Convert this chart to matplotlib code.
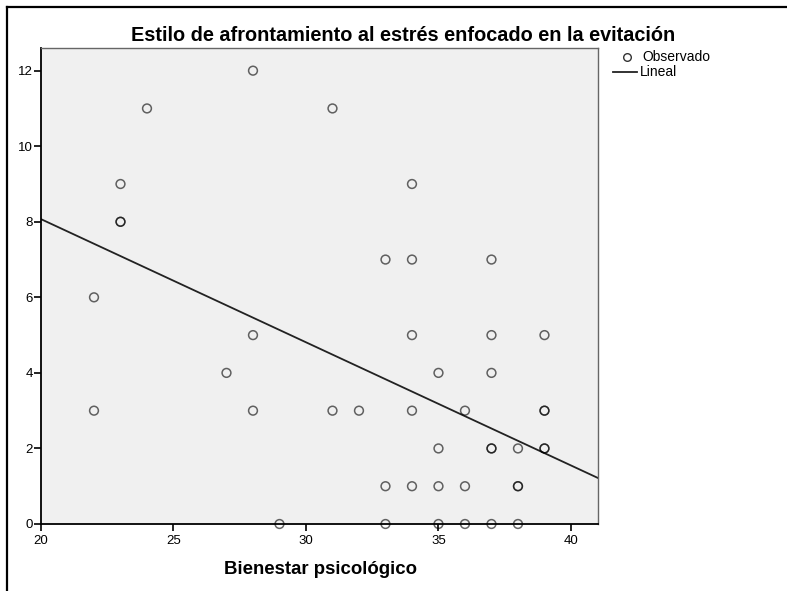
import numpy as np
import matplotlib.pyplot as plt
from matplotlib.lines import Line2D

# Bienestar psicologico (x) vs estilo de afrontamiento evitacion (y)
bienestar = [22, 22, 23, 23, 23, 24, 27, 28, 28, 28, 29, 31, 31, 32,
             33, 33, 33, 34, 34, 34, 34, 34, 35, 35, 35, 35,
             36, 36, 36, 37, 37, 37, 37, 37, 37, 38, 38, 38, 38,
             39, 39, 39, 39, 39]
evitacion = [6, 3, 9, 8, 8, 11, 4, 12, 5, 3, 0, 11, 3, 3,
             7, 1, 0, 9, 7, 5, 3, 1, 4, 2, 1, 0,
             3, 1, 0, 7, 5, 4, 2, 2, 0, 2, 1, 1, 0,
             5, 3, 3, 2, 2]

# recta lineal
fit_intercept = 14.59
fit_slope = -0.326

x_ticks = [20, 25, 30, 35, 40]
y_ticks = [0, 2, 4, 6, 8, 10, 12]

plt.rcParams["font.family"] = ["Liberation Sans", "DejaVu Sans"]

W, H = 787, 591
fig = plt.figure(figsize=(W / 100, H / 100), dpi=100)
ax = fig.add_axes([41 / W, 1 - 524 / H, (598 - 41) / W, (524 - 48) / H])
ax.set_facecolor("#f0f0f0")

ax.scatter(bienestar, evitacion, s=40, facecolors="none",
           edgecolors=(0, 0, 0, 0.6), linewidths=1.1, zorder=3, clip_on=False)

xs = np.array([20, 41.02])
ax.plot(xs, fit_intercept + fit_slope * xs, color="#222222", lw=1.3, zorder=2)

ax.set_xlim(20, 41.02)
ax.set_ylim(0, 12.6)
ax.set_xticks(x_ticks)
ax.set_yticks(y_ticks)
ax.tick_params(direction="out", length=5, width=1.2, color="black",
               labelsize=9.5, pad=1)
ax.tick_params(axis="x", pad=3)
for side in ["left", "bottom"]:
    ax.spines[side].set_color("black")
    ax.spines[side].set_linewidth(1.3)
for side in ["top", "right"]:
    ax.spines[side].set_color("#666666")
    ax.spines[side].set_linewidth(1.0)

fig.text(403 / W, 1 - 41 / H,
         "Estilo de afrontamiento al estrés enfocado en la evitación",
         ha="center", va="baseline", fontsize=14.3, fontweight="bold")
fig.text(320 / W, 1 - 574 / H, "Bienestar psicológico",
         ha="center", va="baseline", fontsize=13.4, fontweight="bold")

# leyenda
fig.add_artist(Line2D([627 / W], [1 - 57 / H], marker="o", markersize=5.5,
                      markerfacecolor="none", markeredgecolor="#333333",
                      markeredgewidth=1.0, transform=fig.transFigure))
fig.add_artist(Line2D([613 / W, 637 / W], [1 - 72 / H, 1 - 72 / H],
                      color="#222222", lw=1.3, transform=fig.transFigure))
fig.text(642 / W, 1 - 57 / H, "Observado", va="center", fontsize=10)
fig.text(640 / W, 1 - 72 / H, "Lineal", va="center", fontsize=10)

# marco exterior
fig.add_artist(Line2D([7 / W, 1], [1 - 7 / H, 1 - 7 / H], color="black",
                      lw=1.6, transform=fig.transFigure))
fig.add_artist(Line2D([7 / W, 7 / W], [0, 1 - 7 / H], color="black",
                      lw=1.6, transform=fig.transFigure))

fig.savefig("out.png", dpi=100)
